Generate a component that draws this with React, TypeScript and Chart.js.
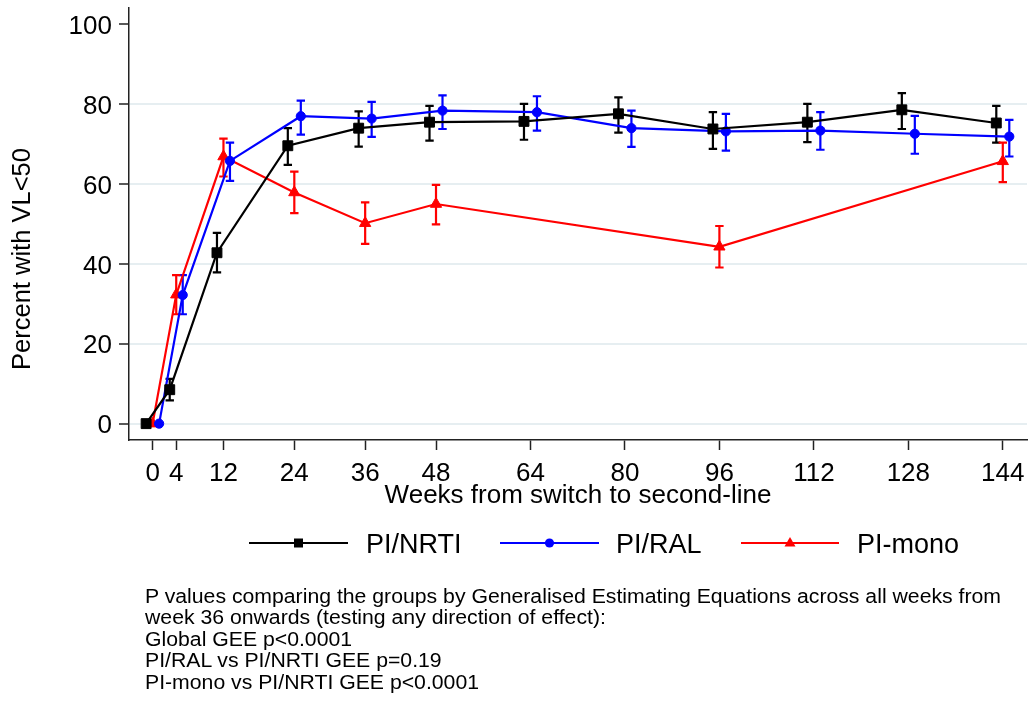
import React, { useEffect, useLayoutEffect, useRef, useState } from 'react';
import { Chart, registerables } from 'chart.js';

Chart.register(...registerables);

// ---------- data ----------
const weeks = [0, 4, 12, 24, 36, 48, 64, 80, 96, 112, 128, 144];
const xTickWeeks = [0, 4, 12, 24, 36, 48, 64, 80, 96, 112, 128, 144];
const yTickValues = [0, 20, 40, 60, 80, 100];

const nrtiPct = [0, 8.5, 42.8, 69.6, 74.0, 75.5, 75.7, 77.6, 73.8, 75.5, 78.6, 75.3];
const nrtiLo = [null, 5.8, 37.9, 64.8, 69.4, 70.9, 71.1, 72.9, 68.8, 70.5, 73.8, 70.4];
const nrtiHi = [null, 11.2, 47.8, 74.0, 78.2, 79.6, 80.1, 81.7, 78.0, 80.1, 82.8, 79.6];

const ralPct = [0, 32.2, 65.8, 77.0, 76.4, 78.4, 78.0, 74.0, 73.2, 73.4, 72.6, 71.9];
const ralLo = [null, 27.4, 60.8, 72.4, 71.8, 73.8, 73.4, 69.3, 68.4, 68.6, 67.6, 66.9];
const ralHi = [null, 37.2, 70.4, 80.9, 80.6, 82.2, 82.0, 78.4, 77.6, 78.0, 77.1, 76.1];

const monoWeeks = [0, 4, 12, 24, 36, 48, 96, 144];
const monoPct = [0, 32.3, 66.9, 57.9, 50.2, 55.0, 44.3, 65.7];
const monoLo = [null, 27.4, 61.9, 52.7, 45.0, 49.9, 39.1, 60.5];
const monoHi = [null, 37.2, 71.4, 63.1, 55.4, 59.8, 49.5, 70.4];

const seriesNames = ['PI/NRTI', 'PI/RAL', 'PI-mono'];
const xTitle = 'Weeks from switch to second-line';
const yTitle = 'Percent with VL<50';
const footnoteLines = [
  'P values comparing the groups by Generalised Estimating Equations across all weeks from',
  'week 36 onwards (testing any direction of effect):',
  'Global GEE p<0.0001',
  'PI/RAL vs PI/NRTI GEE p=0.19',
  'PI-mono vs PI/NRTI GEE p<0.0001',
];

// ---------- styling ----------
const FONT = '"Liberation Sans", Arial, Helvetica, sans-serif';
const AXIS = '#222222';
const GRID = '#e6eef1';
const PLOT_RIGHT = 1027;

const series = [
  { name: seriesNames[0], weeks: weeks, pct: nrtiPct, lo: nrtiLo, hi: nrtiHi, color: '#000000', style: 'rect', radius: 7, jitter: -1.1 },
  { name: seriesNames[1], weeks: weeks, pct: ralPct, lo: ralLo, hi: ralHi, color: '#0000ff', style: 'circle', radius: 4.6, jitter: 1.1 },
  { name: seriesNames[2], weeks: monoWeeks, pct: monoPct, lo: monoLo, hi: monoHi, color: '#ff0000', style: 'triangle', radius: 6.5, jitter: 0 },
];

const legendLayout = [
  { x0: 249, x1: 348, tx: 366 },
  { x0: 500, x1: 599, tx: 616 },
  { x0: 741, x1: 839, tx: 857 },
];
const LEGEND_Y = 543;

function drawMarker(ctx: CanvasRenderingContext2D, style: string, cx: number, cy: number, color: string) {
  ctx.fillStyle = color;
  ctx.beginPath();
  if (style === 'rect') {
    ctx.rect(cx - 4.5, cy - 4.5, 9, 9);
  } else if (style === 'circle') {
    ctx.arc(cx, cy, 4.6, 0, Math.PI * 2);
  } else {
    ctx.moveTo(cx, cy - 6);
    ctx.lineTo(cx - 5.5, cy + 3.5);
    ctx.lineTo(cx + 5.5, cy + 3.5);
    ctx.closePath();
  }
  ctx.fill();
}

const errorBarPlugin = {
  id: 'errorBars',
  beforeDatasetsDraw(chart: any) {
    const ctx = chart.ctx as CanvasRenderingContext2D;
    const xs = chart.scales.x;
    const ys = chart.scales.y;
    series.forEach((s) => {
      ctx.save();
      ctx.strokeStyle = s.color;
      ctx.lineWidth = 2.2;
      s.weeks.forEach((w, i) => {
        const lo = s.lo[i];
        const hi = s.hi[i];
        if (lo == null || hi == null) return;
        const px = xs.getPixelForValue(w + s.jitter);
        const pl = ys.getPixelForValue(lo);
        const ph = ys.getPixelForValue(hi);
        ctx.beginPath();
        ctx.moveTo(px, pl);
        ctx.lineTo(px, ph);
        ctx.moveTo(px - 4.2, pl);
        ctx.lineTo(px + 4.2, pl);
        ctx.moveTo(px - 4.2, ph);
        ctx.lineTo(px + 4.2, ph);
        ctx.stroke();
      });
      ctx.restore();
    });
  },
};

const extrasPlugin = {
  id: 'extras',
  afterDraw(chart: any) {
    const ctx = chart.ctx as CanvasRenderingContext2D;
    // y axis title
    ctx.save();
    ctx.translate(23, 259);
    ctx.rotate(-Math.PI / 2);
    ctx.font = `25.5px ${FONT}`;
    ctx.fillStyle = '#000';
    ctx.textAlign = 'center';
    ctx.textBaseline = 'middle';
    ctx.fillText(yTitle, 0, 0);
    ctx.restore();

    // legend
    series.forEach((s, i) => {
      const L = legendLayout[i];
      ctx.save();
      ctx.strokeStyle = s.color;
      ctx.lineWidth = 2.2;
      ctx.beginPath();
      ctx.moveTo(L.x0, LEGEND_Y);
      ctx.lineTo(L.x1, LEGEND_Y);
      ctx.stroke();
      drawMarker(ctx, s.style, (L.x0 + L.x1) / 2, LEGEND_Y, s.color);
      ctx.fillStyle = '#000';
      ctx.font = `27px ${FONT}`;
      ctx.textAlign = 'left';
      ctx.textBaseline = 'alphabetic';
      ctx.fillText(s.name, L.tx, 553);
      ctx.restore();
    });
  },
};

function Footnote() {
  const ref = useRef<HTMLSpanElement>(null);
  const [sx, setSx] = useState(1);
  useLayoutEffect(() => {
    if (ref.current) {
      const w = ref.current.getBoundingClientRect().width;
      if (w > 0) setSx(856 / w);
    }
  }, []);
  return (
    <div
      style={{
        position: 'absolute',
        left: 145,
        top: 586,
        transform: `scaleX(${sx})`,
        transformOrigin: '0 0',
        fontFamily: '"Liberation Sans Narrow", "Arial Narrow", "Liberation Sans", Arial, sans-serif',
        fontSize: 20,
        lineHeight: '21.4px',
        color: '#000',
        whiteSpace: 'nowrap',
      }}
    >
      {footnoteLines.map((l, i) => (
        <div key={i}>{i === 0 ? <span ref={ref}>{l}</span> : l}</div>
      ))}
    </div>
  );
}

export default function App() {
  const canvasRef = useRef<HTMLCanvasElement>(null);

  useEffect(() => {
    if (!canvasRef.current) return;
    const datasets = series.map((s) => ({
      label: s.name,
      data: s.weeks.map((w, i) => ({ x: w + s.jitter, y: s.pct[i] })),
      borderColor: s.color,
      backgroundColor: s.color,
      borderWidth: 2.2,
      pointStyle: s.style,
      pointRadius: s.radius,
      pointBorderWidth: 1,
      pointBorderColor: s.color,
      pointBackgroundColor: s.color,
      tension: 0,
      fill: false,
    }));

    const chart = new Chart(canvasRef.current, {
      type: 'line',
      data: { datasets },
      options: {
        animation: false,
        responsive: true,
        maintainAspectRatio: false,
        layout: { padding: { left: 0, right: 2, top: 8, bottom: 186 } },
        plugins: { legend: { display: false }, tooltip: { enabled: false } },
        scales: {
          x: {
            type: 'linear',
            min: -4,
            max: 148.1,
            afterBuildTicks: (s: any) => {
              s.ticks = xTickWeeks.map((v) => ({ value: v }));
            },
            afterFit: (s: any) => {
              s.height = 80;
              s.paddingLeft = 0;
              s.paddingRight = 0;
            },
            grid: { drawOnChartArea: false, drawTicks: true, tickLength: 10, tickColor: AXIS, tickWidth: 1.5 },
            border: { color: AXIS, width: 1.5 },
            ticks: { autoSkip: false, maxRotation: 0, padding: 8, color: '#000', font: { family: FONT, size: 26 } },
            title: { display: true, text: xTitle, color: '#000', font: { family: FONT, size: 26 }, padding: { top: 0, bottom: 8.5 } },
          },
          y: {
            type: 'linear',
            min: -4.1,
            max: 104.1,
            afterBuildTicks: (s: any) => {
              s.ticks = yTickValues.map((v) => ({ value: v }));
            },
            afterFit: (s: any) => {
              s.width = 129;
              s.paddingTop = 0;
              s.paddingBottom = 0;
            },
            grid: {
              color: (c: any) => (c.tick && c.tick.value === 100 ? 'rgba(0,0,0,0)' : GRID),
              lineWidth: 2,
              drawTicks: true,
              tickLength: 10,
              tickColor: AXIS,
              tickWidth: 1.5,
            },
            border: { color: AXIS, width: 1.5 },
            ticks: { padding: 7, labelOffset: 2.5, color: '#000', font: { family: FONT, size: 26 } },
          },
        },
      },
      plugins: [
        errorBarPlugin,
        extrasPlugin,
        {
          id: 'fixRight',
          afterLayout(chart: any) {
            // keep the plot region's right edge where the reference has it
            const ca = chart.chartArea;
            if (Math.abs(ca.right - PLOT_RIGHT) > 0.5) {
              const xs = chart.scales.x;
              ca.right = PLOT_RIGHT;
              ca.width = ca.right - ca.left;
              xs.right = PLOT_RIGHT;
              xs.width = xs.right - xs.left;
              xs.configure();
            }
          },
        },
      ],
    } as any);

    return () => chart.destroy();
  }, []);

  return (
    <>
      <div style={{ position: 'absolute', left: 0, top: 0, width: 1029, height: 706 }}>
        <canvas ref={canvasRef} />
      </div>
      <Footnote />
    </>
  );
}
